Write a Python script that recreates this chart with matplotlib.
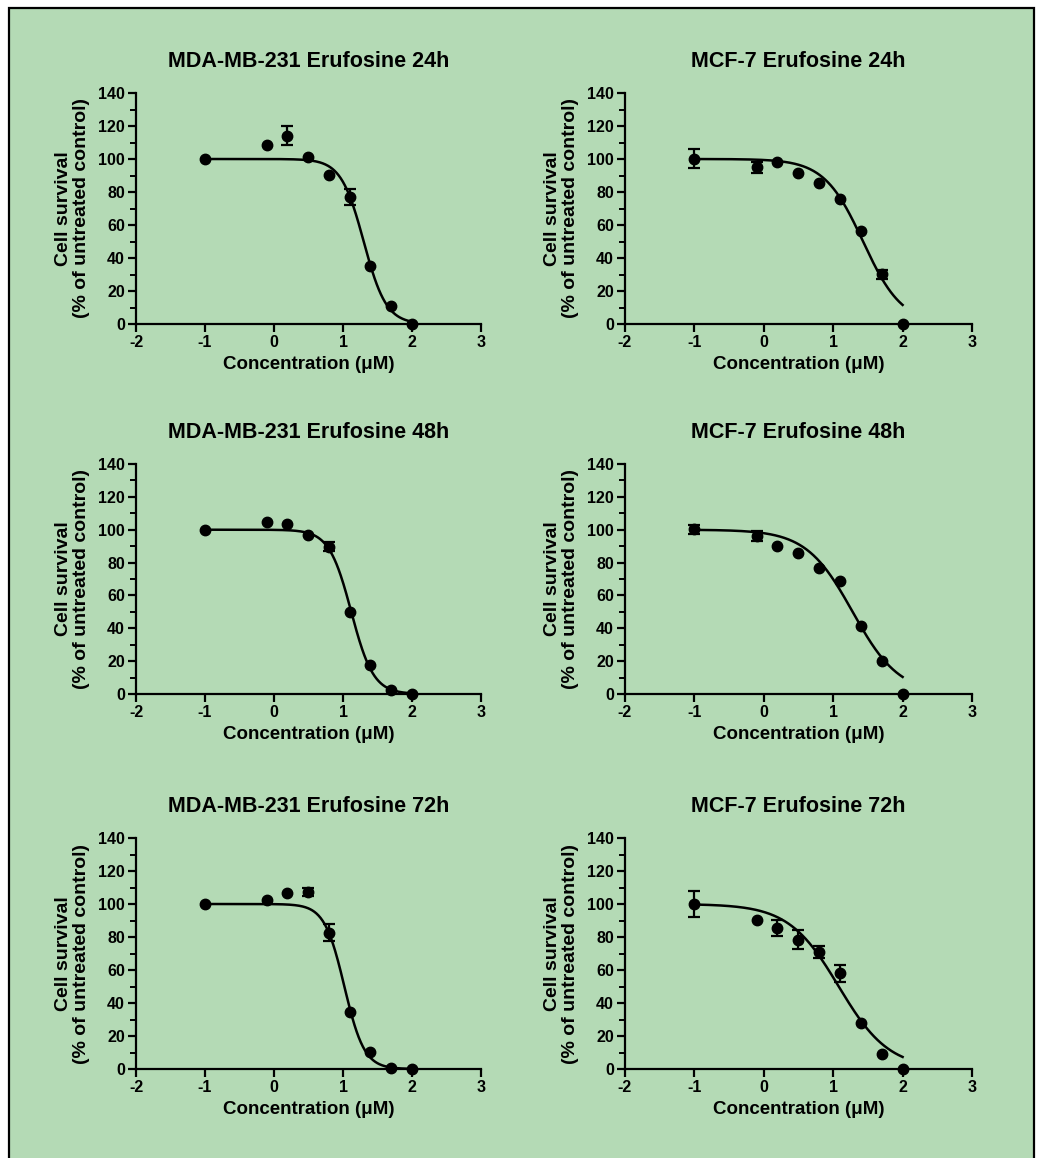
import numpy as np
import matplotlib
matplotlib.use("Agg")
import matplotlib.pyplot as plt
from matplotlib.patches import Rectangle
from matplotlib.ticker import MultipleLocator

plt.rcParams['font.family'] = ['Liberation Sans', 'DejaVu Sans']
plt.rcParams['font.weight'] = 'bold'

# log10 concentration (uM)
log_conc = [-1.0, -0.097, 0.194, 0.495, 0.796, 1.097, 1.398, 1.699, 2.0]

titles = ["MDA-MB-231 Erufosine 24h", "MCF-7 Erufosine 24h",
          "MDA-MB-231 Erufosine 48h", "MCF-7 Erufosine 48h",
          "MDA-MB-231 Erufosine 72h", "MCF-7 Erufosine 72h"]

mda_24_mean = [100, 108.3, 114, 101.2, 90.2, 77, 35.2, 11, 0]
mda_24_err = [0, 0, 5.8, 0, 0, 4.8, 0, 0, 0]
mcf_24_mean = [100.2, 95.1, 98.1, 91.6, 85.6, 76, 56.5, 30.1, 0]
mcf_24_err = [5.6, 3.3, 0, 0, 0, 0, 0, 2.7, 0]
mda_48_mean = [100, 104.9, 103.4, 96.5, 89.6, 50, 17.5, 2.2, 0]
mda_48_err = [0, 0, 0, 0, 2.8, 0, 0, 0, 0]
mcf_48_mean = [100.2, 96.1, 90.2, 86, 76.6, 68.7, 41.5, 20.1, 0]
mcf_48_err = [2.7, 3.0, 0, 0, 0, 0, 0, 0, 0]
mda_72_mean = [100, 102.4, 106.4, 107.2, 82.7, 34.6, 10.1, 0.4, 0]
mda_72_err = [0, 0, 0, 2.5, 5.4, 0, 0, 0, 0]
mcf_72_mean = [100, 90.2, 85.4, 78.4, 70.8, 58, 27.8, 9.2, 0]
mcf_72_err = [8, 0, 4.9, 5.9, 3.5, 5, 0, 0, 0]

# fitted curve parameters: (logIC50, hill slope)
fit_logic50 = [1.30, 1.43, 1.12, 1.28, 1.02, 1.08]
fit_hill = [2.64, 1.55, 2.7, 1.3, 3.0, 1.2]

means = [mda_24_mean, mcf_24_mean, mda_48_mean, mcf_48_mean, mda_72_mean, mcf_72_mean]
errs = [mda_24_err, mcf_24_err, mda_48_err, mcf_48_err, mda_72_err, mcf_72_err]

x_ticks = [-2, -1, 0, 1, 2, 3]
y_ticks = [0, 20, 40, 60, 80, 100, 120, 140]

W, H = 1038, 1158
fig = plt.figure(figsize=(W / 100, H / 100), dpi=100, facecolor='white')
bg = Rectangle((8.5 / W, -0.05), (1034 - 8.5) / W, (H - 7.5) / H + 0.05,
               transform=fig.transFigure, facecolor='#b4dab5', edgecolor='black',
               linewidth=1.6, zorder=-10)
fig.patches.append(bg)

lefts = [136, 625]
tops = [93, 464, 838]
bottoms = [324, 694, 1069]
widths = [345, 347]

for i in range(6):
    r, c = divmod(i, 2)
    ax = fig.add_axes([lefts[c] / W, 1 - bottoms[r] / H, widths[c] / W,
                       (bottoms[r] - tops[r]) / H])
    ax.set_facecolor('none')
    ax.set_xlim(-2, 3)
    ax.set_ylim(0, 140)
    for s in ['top', 'right']:
        ax.spines[s].set_visible(False)
    for s in ['left', 'bottom']:
        ax.spines[s].set_linewidth(1.6)
    ax.set_xticks(x_ticks)
    ax.set_xticklabels([str(t) for t in x_ticks])
    ax.set_yticks(y_ticks)
    ax.yaxis.set_minor_locator(MultipleLocator(10))
    ax.tick_params(axis='both', which='major', width=1.6, length=6, labelsize=11.5, pad=2)
    ax.tick_params(axis='y', which='minor', width=1.4, length=4)
    for lab in ax.get_xticklabels() + ax.get_yticklabels():
        lab.set_fontweight('bold')

    xs = np.linspace(-1, 2, 300)
    ys = 100 / (1 + 10 ** ((xs - fit_logic50[i]) * fit_hill[i]))
    ax.plot(xs, ys, color='black', lw=1.8, clip_on=False, zorder=3)

    m = np.array(means[i])
    e = np.array(errs[i])
    has = e > 0
    x = np.array(log_conc)
    ax.errorbar(x[has], m[has], yerr=e[has], fmt='none', ecolor='black',
                elinewidth=1.6, capsize=4, capthick=1.6, clip_on=False, zorder=4)
    ax.plot(x, m, 'o', color='black', markersize=7.5, clip_on=False, zorder=5)

    ax.set_title(titles[i], fontsize=15.5, fontweight='bold', pad=19)
    ax.set_xlabel("Concentration (μM)", fontsize=13.5, fontweight='bold', labelpad=4)
    ax.set_ylabel("Cell survival\n(% of untreated control)", fontsize=14,
                  fontweight='bold', labelpad=6, linespacing=1.05)

fig.savefig("out.png", dpi=100, facecolor='white')
